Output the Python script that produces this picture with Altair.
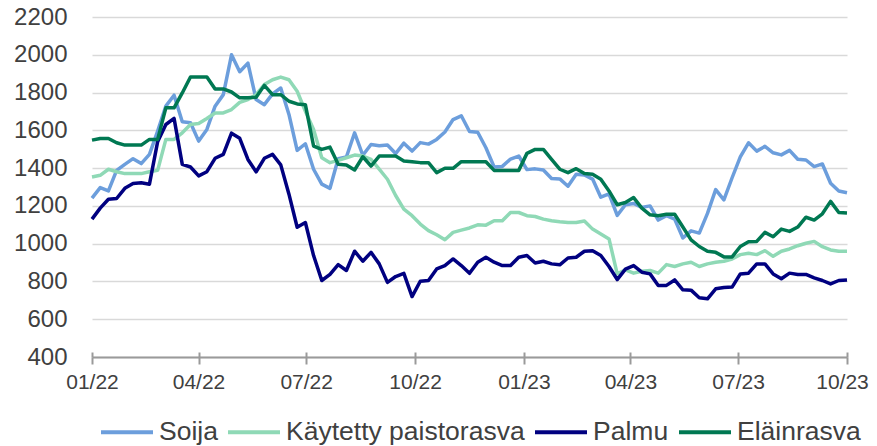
import altair as alt
import pandas as pd

# Weekly price series, 01/2022 - 10/2023 (93 observations each)
soija = [1241, 1297, 1279, 1388, 1420, 1450, 1424, 1473, 1596, 1728,
         1786, 1645, 1640, 1543, 1605, 1728, 1789, 2000, 1910, 1956,
         1763, 1736, 1793, 1824, 1684, 1494, 1529, 1394, 1315, 1293,
         1450, 1459, 1587, 1468, 1525, 1518, 1522, 1477, 1532, 1490,
         1535, 1527, 1552, 1591, 1657, 1677, 1594, 1590, 1508, 1406,
         1409, 1448, 1464, 1392, 1396, 1390, 1345, 1343, 1304, 1368,
         1364, 1342, 1246, 1263, 1150, 1206, 1213, 1192, 1200, 1125,
         1148, 1130, 1030, 1068, 1056, 1160, 1286, 1232, 1349, 1459,
         1534, 1490, 1515, 1481, 1470, 1494, 1447, 1443, 1408, 1422,
         1320, 1279, 1270]

kaytetty = [1353, 1362, 1394, 1381, 1371, 1371, 1371, 1381, 1388, 1552,
            1552, 1587, 1631, 1636, 1663, 1692, 1692, 1710, 1748, 1763,
            1789, 1842, 1868, 1882, 1868, 1807, 1701, 1605, 1455, 1429,
            1441, 1455, 1469, 1464, 1446, 1394, 1341, 1255, 1183, 1148,
            1104, 1069, 1047, 1021, 1060, 1072, 1083, 1100, 1098, 1121,
            1121, 1165, 1165, 1148, 1144, 1130, 1121, 1116, 1112, 1112,
            1120, 1077, 1051, 1025, 840, 861, 844, 854, 858, 844,
            889, 879, 893, 902, 879, 893, 902, 907, 919, 942,
            949, 942, 963, 933, 960, 972, 989, 1002, 1012, 984,
            967, 960, 960]

palmu = [1130, 1188, 1235, 1239, 1293, 1318, 1323, 1315, 1540, 1631,
         1663, 1420, 1406, 1359, 1381, 1452, 1473, 1585, 1558, 1446,
         1380, 1452, 1473, 1417, 1262, 1087, 1112, 937, 805, 837,
         889, 858, 960, 907, 954, 893, 795, 826, 843, 720,
         801, 805, 866, 884, 919, 884, 843, 902, 928, 902,
         884, 884, 928, 937, 898, 907, 893, 888, 924, 928,
         960, 963, 937, 879, 810, 865, 884, 849, 840, 779,
         779, 808, 756, 754, 714, 708, 761, 768, 770, 840,
         844, 893, 893, 840, 814, 844, 837, 837, 819, 805,
         787, 805, 808]

elainrasva = [1548, 1557, 1557, 1534, 1522, 1522, 1522, 1552, 1552, 1719,
              1719, 1798, 1882, 1882, 1882, 1819, 1819, 1803, 1772, 1772,
              1775, 1838, 1789, 1789, 1754, 1740, 1736, 1517, 1499, 1511,
              1420, 1417, 1390, 1460, 1411, 1464, 1464, 1464, 1438, 1434,
              1429, 1429, 1376, 1399, 1399, 1434, 1434, 1434, 1434, 1388,
              1388, 1388, 1388, 1478, 1499, 1499, 1446, 1394, 1376, 1397,
              1371, 1367, 1341, 1279, 1206, 1218, 1244, 1188, 1153, 1148,
              1156, 1156, 1088, 1020, 985, 960, 954, 930, 930, 985,
              1010, 1012, 1060, 1037, 1077, 1065, 1088, 1140, 1125, 1158,
              1224, 1165, 1163]

series_names = ["Soija", "Käytetty paistorasva", "Palmu", "Eläinrasva"]
series_colors = ["#6C9EDC", "#8FD9B6", "#000080", "#007852"]
y_ticks = [400, 600, 800, 1000, 1200, 1400, 1600, 1800, 2000, 2200]
tick_months = [(2022, 1), (2022, 4), (2022, 7), (2022, 10),
               (2023, 1), (2023, 4), (2023, 7), (2023, 10)]

dates = pd.date_range("2022-01-01", "2023-10-01", periods=len(soija))
rows = []
for name, vals in zip(series_names, [soija, kaytetty, palmu, elainrasva]):
    for d, v in zip(dates, vals):
        rows.append({"date": d.strftime("%Y-%m-%dT%H:%M:%S"), "series": name, "value": v})
df = pd.DataFrame(rows)

FONT = "Liberation Sans"
TXT = "#404040"
AXC = "#9A9A9A"

tick_vals = [alt.DateTime(year=y, month=m, date=1) for y, m in tick_months]
xscale = alt.Scale(domain=[alt.DateTime(year=2022, month=1, date=1),
                           alt.DateTime(year=2023, month=10, date=1)])
yscale = alt.Scale(domain=[400, 2200], nice=False, zero=False)

y_enc = alt.Y("value:Q", scale=yscale,
              axis=alt.Axis(values=y_ticks, format="d", title=None, domain=False,
                            ticks=False, tickSize=0, labelPadding=25,
                            labelFontSize=24, labelFont=FONT, labelColor=TXT,
                            grid=True, gridColor="#D9D9D9", gridWidth=1.3))

color_enc = alt.Color("series:N",
                      scale=alt.Scale(domain=series_names, range=series_colors),
                      sort=series_names,
                      legend=alt.Legend(orient="none", legendX=7, legendY=387,
                                        direction="horizontal", title=None,
                                        symbolType="stroke", symbolSize=2704,
                                        symbolStrokeWidth=4, labelFontSize=26.5,
                                        labelFont=FONT, labelColor=TXT,
                                        labelLimit=500, columnPadding=2,
                                        labelOffset=4, columns=4))

lines = alt.Chart(df).mark_line(strokeWidth=3.5, strokeJoin="round").encode(
    x=alt.X("date:T", scale=xscale,
            axis=alt.Axis(values=tick_vals, format="%m/%y", title=None,
                          orient="bottom", grid=False, domainColor=AXC,
                          domainWidth=2, tickColor=AXC, tickWidth=2, tickSize=7,
                          labelPadding=7, labelFontSize=21, labelFont=FONT,
                          labelColor=TXT, labelFlush=False,
                          labelOffset={"condition": {"test": "datum.label == '10/23'",
                                                     "value": -5},
                                       "value": 0})),
    y=y_enc,
    color=color_enc,
    order=alt.Order("date:T"),
)

upper_ticks = alt.Chart(df).mark_line(opacity=0).encode(
    x=alt.X("date:T", scale=xscale,
            axis=alt.Axis(values=tick_vals, labels=False, domain=False,
                          title=None, orient="bottom", grid=False, offset=-5,
                          tickColor=AXC, tickWidth=2, tickSize=5)),
    y=y_enc,
    detail="series:N",
)

chart = alt.layer(upper_ticks, lines).resolve_axis(x="independent").properties(
    width=755, height=340,
    autosize=alt.AutoSizeParams(type="none"),
    padding={"left": 84, "top": 9, "right": 22, "bottom": 89},
).configure_view(stroke=None)

chart.save("out.html", embed_options={"renderer": "svg", "actions": False})
